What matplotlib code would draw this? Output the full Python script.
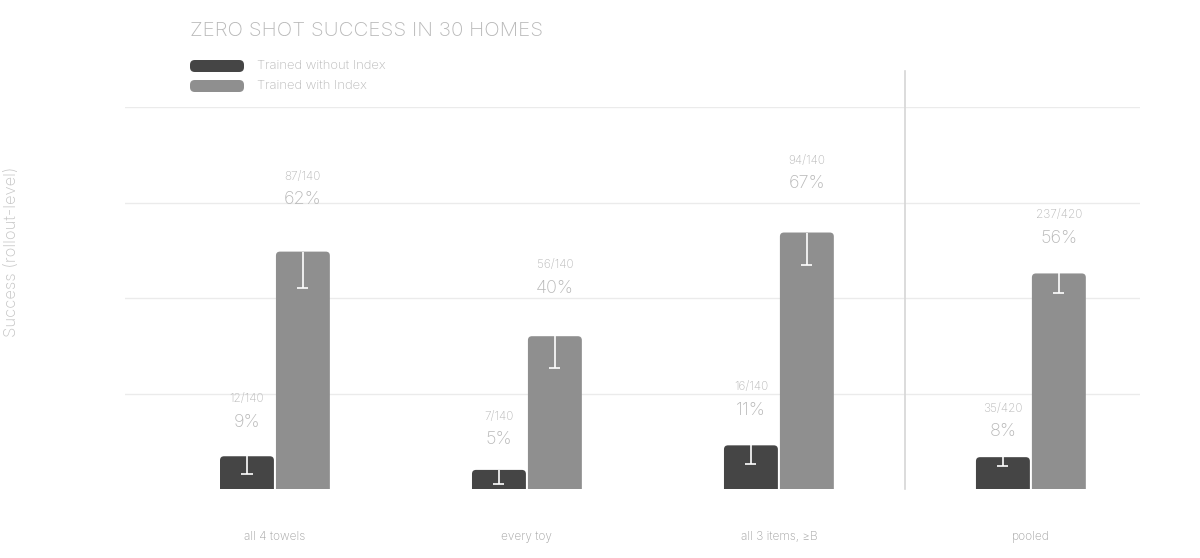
import matplotlib
matplotlib.use("Agg")
import matplotlib.pyplot as plt
from matplotlib.patches import FancyBboxPatch
import numpy as np

plt.rcParams['font.family'] = ['Inter', 'DejaVu Sans']
plt.rcParams['font.weight'] = 'light'

categories = ["all 4 towels", "every toy", "all 3 items, \u2265B", "pooled"]
series_names = ["Trained without Index", "Trained with Index"]
# successes / trials
no_index_k = [12, 7, 16, 35]
with_index_k = [87, 56, 94, 237]
trials = [140, 140, 140, 420]
# lower half of the error bar (fraction)
no_index_err = [0.047, 0.037, 0.050, 0.024]
with_index_err = [0.094, 0.084, 0.086, 0.050]

colors = ["#454545", "#8f8f8f"]
text_gray = "#b8b8b8"
grid_gray = "#ebebeb"

fig = plt.figure(figsize=(12, 5.58), dpi=100)
ax = fig.add_axes([125 / 1200, 69 / 558, 1015 / 1200, 382 / 558])
ax.set_xlim(-0.595, 3.433)
ax.set_ylim(0, 1.0)

for s in ax.spines.values():
    s.set_visible(False)
ax.set_yticks([0.25, 0.5, 0.75, 1.0])
ax.set_yticklabels([])
ax.tick_params(axis="both", length=0)
ax.grid(axis="y", color=grid_gray, linewidth=1)
ax.set_axisbelow(True)

x = np.arange(len(categories))
width = 0.214
offsets = [-0.111, 0.111]
# px -> data ratio for rounded corners
aspect = (1 / 382) / (1 / 252)

series = [
    (np.array(no_index_k) / np.array(trials), no_index_err, no_index_k),
    (np.array(with_index_k) / np.array(trials), with_index_err, with_index_k),
]

for si, (vals, errs, ks) in enumerate(series):
    for i in range(len(categories)):
        cx = x[i] + offsets[si]
        v = vals[i]
        patch = FancyBboxPatch((cx - width / 2, -0.03), width, v + 0.03,
                               boxstyle="round,pad=0,rounding_size=0.016",
                               mutation_aspect=aspect,
                               facecolor=colors[si], edgecolor="none",
                               zorder=2)
        ax.add_patch(patch)
        # white error bar (lower part only visible)
        ax.vlines(cx, v - errs[i], v, color="white", linewidth=1.2, zorder=3)
        ax.hlines(v - errs[i], cx - 0.022, cx + 0.022, color="white",
                  linewidth=1.2, zorder=3)
        top = v + errs[i]
        ax.annotate(f"{round(v * 100):.0f}%", (cx, top), xytext=(0, 16),
                    textcoords="offset pixels", ha="center", va="center",
                    fontsize=13, color=text_gray, annotation_clip=False)
        ax.annotate(f"{ks[i]}/{trials[i]}", (cx, top), xytext=(0, 39),
                    textcoords="offset pixels", ha="center", va="center",
                    fontsize=8.5, color=text_gray, annotation_clip=False)

# separator before pooled
ax.plot([2.5, 2.5], [0, 1.095], color="#d6d6d6", linewidth=1.2,
        clip_on=False, zorder=1)

ax.set_xticks(x)
ax.set_xticklabels(categories, fontsize=8.5, color="#a0a0a0")
ax.tick_params(axis="x", pad=30)

fig.text(12 / 1200, 1 - 252 / 558, "Success (rollout-level)", rotation=90,
         ha="center", va="center", fontsize=12, color="#c4c4c4")

fig.text(190 / 1200, 1 - 31 / 558, "ZERO SHOT SUCCESS IN 30 HOMES",
         ha="left", va="center", fontsize=14.8, color=text_gray)

for si, name in enumerate(series_names):
    yc = 1 - (66 + si * 20) / 558
    leg = FancyBboxPatch((190 / 1200, yc - 6 / 558), 54 / 1200, 12 / 558,
                         boxstyle="round,pad=0,rounding_size=0.004",
                         mutation_aspect=1200 / 558,
                         transform=fig.transFigure, facecolor=colors[si],
                         edgecolor="none")
    fig.patches.append(leg)
    fig.text(257 / 1200, yc, name, ha="left", va="center", fontsize=9.4,
             color=text_gray)

fig.savefig("out.png", dpi=100, facecolor="white")
